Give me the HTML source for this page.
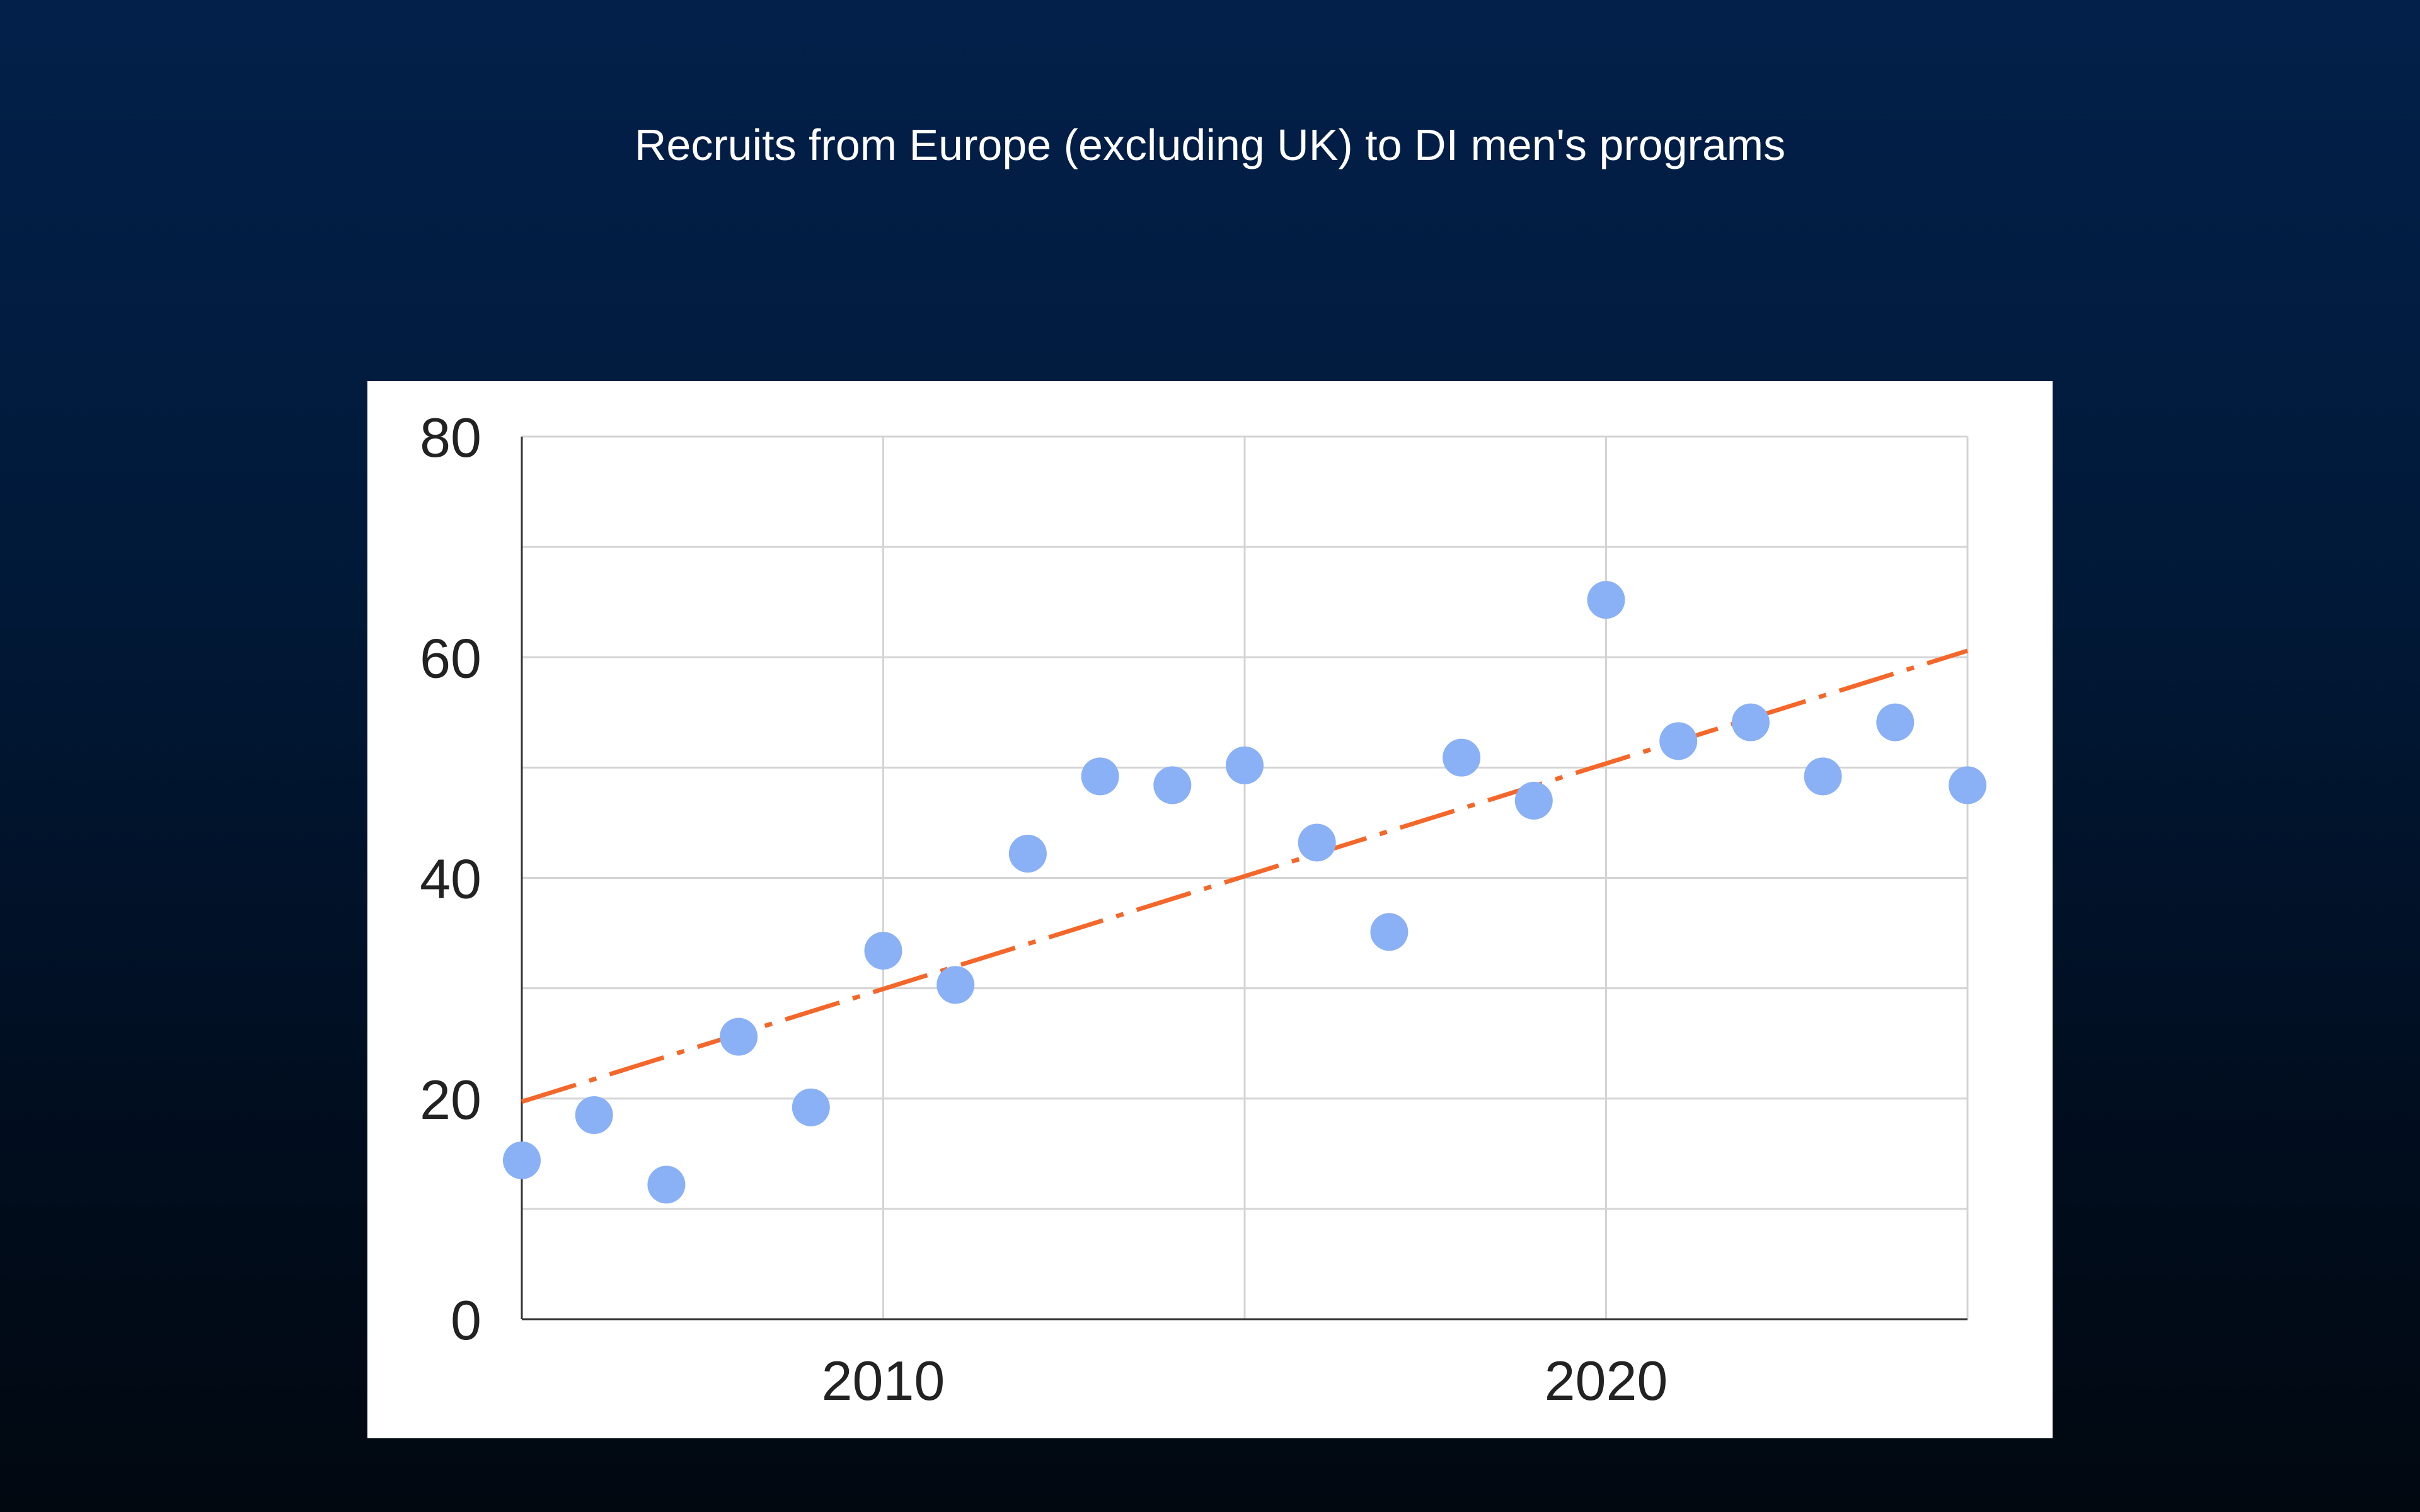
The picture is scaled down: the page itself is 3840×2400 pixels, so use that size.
<!DOCTYPE html>
<html><head><meta charset="utf-8">
<style>
html,body{margin:0;padding:0;}
body{width:3840px;height:2400px;overflow:hidden;background:linear-gradient(180deg,#02204a 0%,#011a3a 35%,#010d1e 75%,#010810 100%);font-family:"Liberation Sans",sans-serif;}
#title{position:absolute;left:0;width:3840px;top:190px;text-align:center;color:#fff;font-size:70px;}
#panel{position:absolute;left:583px;top:605px;width:2674px;height:1678px;background:#fff;}
</style></head><body>
<div id="title">Recruits from Europe (excluding UK) to DI men's programs</div>
<div id="panel"></div>
<svg id="chart" width="3840" height="2400" style="position:absolute;left:0;top:0"></svg>
<script>
const years=[2005,2006,2007,2008,2009,2010,2011,2012,2013,2014,2015,2016,2017,2018,2019,2020,2021,2022,2023,2024,2025];
const recruits=[14.4,18.5,12.2,25.6,19.2,33.4,30.3,42.2,49.2,48.4,50.2,43.2,35.1,50.9,47.0,65.2,52.4,54.1,49.2,54.1,48.4];
const yTicks=[0,20,40,60,80];
const xTicks=[2010,2020];
const X0=828,X1=3122,Y0=2094,Y1=693;
const sx=v=>X0+(v-2005)/(2025-2005)*(X1-X0);
const sy=v=>Y0-(v/80)*(Y0-Y1);
const svg=document.getElementById('chart');
const NS='http://www.w3.org/2000/svg';
function mk(t,a){const e=document.createElementNS(NS,t);for(const k in a)e.setAttribute(k,a[k]);svg.appendChild(e);return e;}
for(let v=10;v<=80;v+=10){
 const l=mk('line',{x1:X0,x2:X1,y1:sy(v),y2:sy(v),stroke:'#d4d4d4','stroke-width':3});
 
 
}
for(let yr=2010;yr<=2025;yr+=5){
 const l=mk('line',{x1:sx(yr),x2:sx(yr),y1:Y1,y2:Y0,stroke:'#d4d4d4','stroke-width':3});
 
 
}
const ya=mk('line',{x1:X0,x2:X0,y1:Y1,y2:Y0,stroke:'#333','stroke-width':3});


const xa=mk('line',{x1:X0,x2:X1,y1:Y0,y2:Y0,stroke:'#333','stroke-width':3});


yTicks.forEach(v=>{
 const t=mk('text',{x:764,y:sy(v)+32,'text-anchor':'end','font-size':88,fill:'#222','font-family':'Liberation Sans, sans-serif'});
 t.textContent=v;
 
 
});
xTicks.forEach(v=>{
 const t=mk('text',{x:sx(v),y:2222,'text-anchor':'middle','font-size':88,fill:'#222','font-family':'Liberation Sans, sans-serif'});
 t.textContent=v;
 
 
});
const n=years.length;let mx=0,my=0;years.forEach((x,i)=>{mx+=x;my+=recruits[i];});mx/=n;my/=n;
let num=0,den=0;years.forEach((x,i)=>{num+=(x-mx)*(recruits[i]-my);den+=(x-mx)*(x-mx);});
const slope=num/den,icpt=my-slope*mx;
const tr=mk('line',{x1:sx(2005),y1:sy(icpt+slope*2005),x2:sx(2025),y2:sy(icpt+slope*2025),stroke:'#f4672a','stroke-width':7,'stroke-dasharray':'90 22 12 22'});


years.forEach((yr,i)=>{
 const c=mk('circle',{cx:sx(yr),cy:sy(recruits[i]),r:30,fill:'#8ab0f5'});
 
 
});
</script>
</body></html>
